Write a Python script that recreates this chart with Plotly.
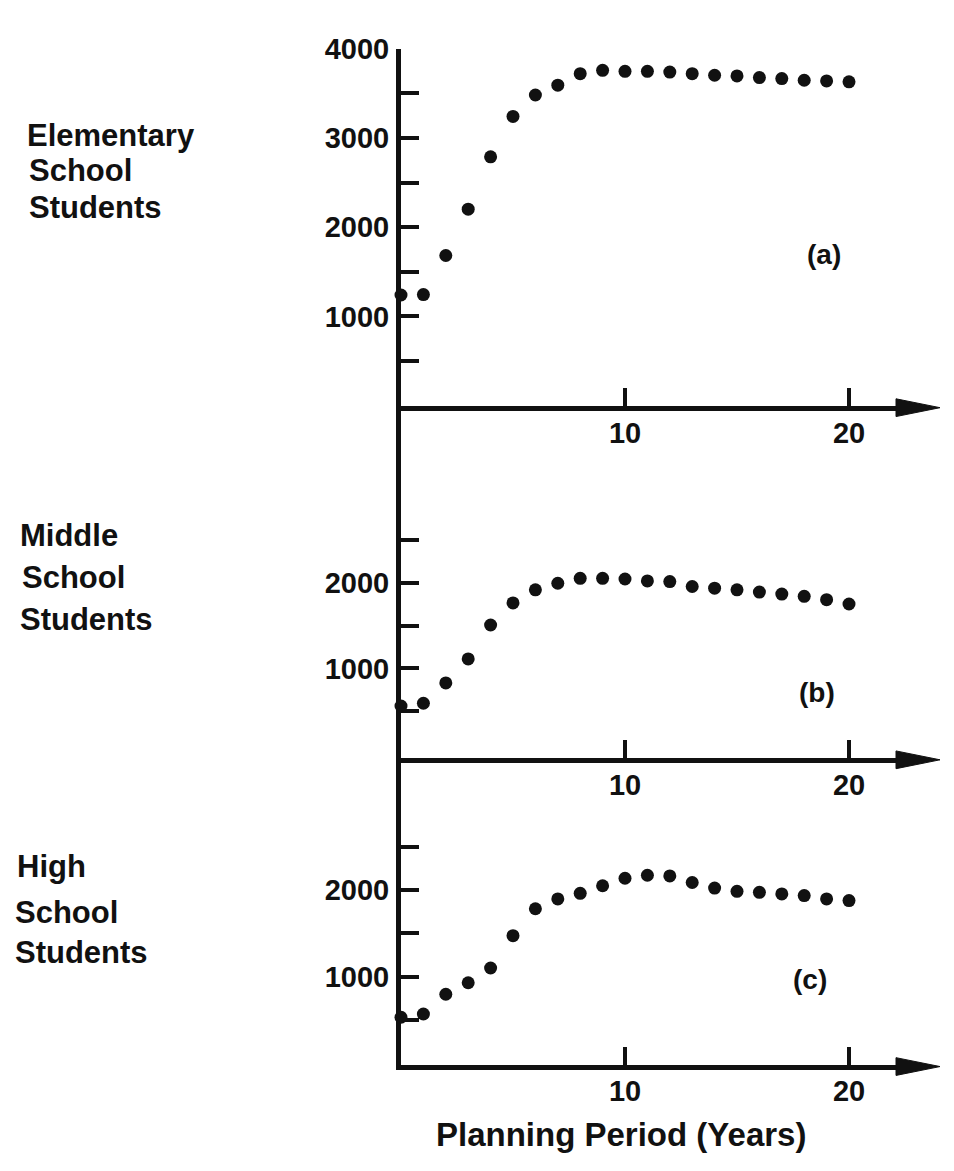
import plotly.graph_objects as go

W, H = 954, 1171

# ---------------- data ----------------
years = list(range(21))
elementary = [1240, 1245, 1683, 2202, 2788, 3241, 3481, 3591, 3720, 3757, 3746,
              3746, 3738, 3720, 3702, 3694, 3676, 3665, 3646, 3638, 3628]
middle = [560, 592, 830, 1111, 1507, 1765, 1918, 1995, 2053, 2053, 2045,
          2022, 2015, 1957, 1938, 1918, 1892, 1869, 1842, 1803, 1753]
high = [534, 572, 799, 932, 1102, 1474, 1784, 1898, 1962, 2049, 2136,
        2170, 2163, 2087, 2023, 1985, 1973, 1955, 1936, 1898, 1879]

x_tickvals = [10, 20]
x_ticktext = ["10", "20"]
ya_tickvals = [500, 1000, 1500, 2000, 2500, 3000, 3500, 4000]
ya_ticktext = ["", "1000", "", "2000", "", "3000", "", "4000"]
yb_tickvals = [500, 1000, 1500, 2000, 2500]
yb_ticktext = ["", "1000", "", "2000", ""]

row_titles = [["Elementary", "School", "Students"],
              ["Middle", "School", "Students"],
              ["High", "School", "Students"]]
panel_tags = ["(a)", "(b)", "(c)"]
x_title = "Planning Period (Years)"

# ---------------- layout helpers ----------------
OFF = 8  # default body margin of the page


def px(x):
    return (x - OFF) / W


def py(y):
    return 1 - (y - OFF) / H


INK = "#111111"
FAMILY = "Liberation Sans, Arial, sans-serif"
NUM_FONT = dict(family=FAMILY, size=29, color=INK, weight="bold")
TXT_FONT = dict(family=FAMILY, size=31, color=INK, weight="bold")

x0_px, x1_px = 401, 900
px_per_year = 22.4
x_range = [0, (x1_px - x0_px) / px_per_year]

panels = [
    dict(top=33, bot=395, rng=[0, 4000], tv=ya_tickvals, tt=ya_ticktext, data=elementary),
    dict(top=395, bot=752, rng=[-46, 4071], tv=yb_tickvals, tt=yb_ticktext, data=middle),
    dict(top=752, bot=1063, rng=[-11, 3523], tv=yb_tickvals, tt=yb_ticktext, data=high),
]

fig = go.Figure()
layout = dict(
    width=W, height=H,
    margin=dict(l=0, r=0, t=0, b=0),
    paper_bgcolor="white", plot_bgcolor="white",
    showlegend=False,
)

shapes = []
for i, p in enumerate(panels):
    n = "" if i == 0 else str(i + 1)
    xa, ya = "x" + n, "y" + n
    fig.add_trace(go.Scatter(
        x=years, y=p["data"], mode="markers", xaxis=xa, yaxis=ya,
        marker=dict(size=13, color=INK), cliponaxis=False,
    ))
    layout["xaxis" + n] = dict(
        domain=[px(x0_px), px(x1_px)], range=x_range, anchor=ya,
        showgrid=False, zeroline=False, showline=True, linewidth=5, linecolor=INK,
        ticks="inside", ticklen=18, tickwidth=4, tickcolor=INK,
        tickvals=x_tickvals, ticktext=x_ticktext, tickfont=NUM_FONT,
        ticklabelstandoff=-3,
    )
    layout["yaxis" + n] = dict(
        domain=[py(p["bot"]), py(p["top"])], range=p["rng"], anchor=xa,
        showgrid=False, zeroline=False, showline=True, linewidth=5, linecolor=INK,
        ticks="inside", ticklen=18, tickwidth=4, tickcolor=INK,
        tickvals=p["tv"], ticktext=p["tt"], tickfont=NUM_FONT,
        ticklabelstandoff=1,
    )
    yc = p["bot"] + 2
    shapes.append(dict(
        type="path", xref="paper", yref="paper",
        path=f"M {px(x1_px - 4)} {py(yc - 9)} L {px(940)} {py(yc)} L {px(x1_px - 4)} {py(yc + 9)} Z",
        fillcolor=INK, line=dict(color=INK, width=1),
    ))

layout["shapes"] = shapes

annotations = []
title_pos = [
    [(25, 121), (27, 157), (27, 194)],
    [(18, 527), (20, 569), (18, 612)],
    [(15, 862), (13, 909), (13, 949)],
]
for lines, pos in zip(row_titles, title_pos):
    for text, (x, y) in zip(lines, pos):
        annotations.append(dict(
            text=text, x=px(x), y=py(y), xref="paper", yref="paper",
            xanchor="left", yanchor="middle", showarrow=False, font=TXT_FONT,
        ))
for tag, (x, y) in zip(panel_tags, [(824, 242), (817, 686), (810, 977)]):
    annotations.append(dict(
        text=tag, x=px(x), y=py(y), xref="paper", yref="paper",
        xanchor="center", yanchor="middle", showarrow=False,
        font=dict(family=FAMILY, size=28, color=INK, weight="bold"),
    ))
annotations.append(dict(
    text=x_title, x=px(621), y=py(1134), xref="paper", yref="paper",
    xanchor="center", yanchor="middle", showarrow=False,
    font=dict(family=FAMILY, size=33, color=INK, weight="bold"),
))
layout["annotations"] = annotations

fig.update_layout(**layout)
fig.write_html("out.html")
